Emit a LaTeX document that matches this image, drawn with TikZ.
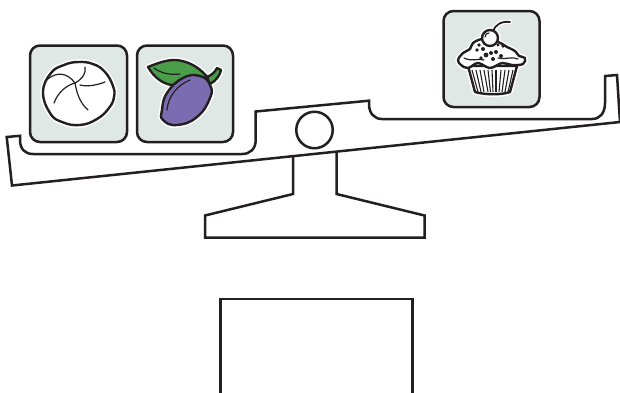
\documentclass[tikz,border=0pt]{standalone}
\definecolor{ink}{HTML}{231F20}
\definecolor{cardbg}{HTML}{E0E8E6}
\definecolor{plum}{HTML}{7B6BB0}
\definecolor{leaf}{HTML}{4A9E4A}
\tikzset{
  beam/.style={draw=ink,line width=2.5pt,line join=miter},
  card/.style={draw=ink,line width=2.5pt,fill=cardbg,rounded corners=10pt},
  halo/.style={draw=white,line width=5.5pt,fill=white,line join=round},
  outl/.style={draw=ink,line width=2.4pt,line join=round},
  thin line/.style={draw=ink,line width=1.2pt,line cap=round},
  rib/.style={draw=ink,line width=1.1pt},
  dot/.style={fill=ink,draw=none}
}
\begin{document}
\begin{tikzpicture}[x=1pt,y=-1pt]
\useasboundingbox (0,0) rectangle (620,392);
\clip (0,0) rectangle (620,392);
% beam
\draw[beam] (6.7,137) -- (20,135.8) -- (20,140) .. controls (20,149) and (25,154) .. (33,154)
  -- (242,154) .. controls (250,154) and (255.7,149) .. (255.7,140)
  -- (255.7,111.5) -- (369,100.7) -- (369,104) .. controls (369,113) and (374,119) .. (382,119)
  -- (592,119) .. controls (600,119) and (605,113) .. (605,103)
  -- (605,76) -- (617,75) -- (620,122) -- (12,185.5) -- cycle;
% stand
\draw[beam] (293,157) -- (293,194) -- (205,215.5) -- (205,237.5) -- (424.5,237.5) -- (424.5,215.5) -- (336.5,194) -- (336.5,152.5);
\node[circle,draw=ink,line width=2.5pt,minimum size=36.5pt,inner sep=0pt] (pivot) at (314.5,130) {};
% block below
\draw[beam] (220.5,400) -- (220.5,299) -- (412.5,299) -- (412.5,400);
% cards
\draw[card] (30,45.5) rectangle (127,142);
\draw[card] (137,45.5) rectangle (233,142);
\draw[card] (443.5,11) rectangle (539.5,107);
% bun
\def\bun{plot[smooth cycle,tension=0.75] coordinates {(43,92) (51,73) (64,65) (78,62) (93,64) (105,72) (113,86) (114,97) (109,108) (97,119) (80,125) (62,122) (50,113)}}
\path[halo] \bun;
\path[outl,fill=white] \bun;
\draw[thin line] (85,67) .. controls (86,72) and (84,78) .. (75,83);
\draw[thin line] (48,79) .. controls (56,72) and (67,72) .. (75,83);
\draw[thin line] (75,83) .. controls (67,85) and (58,92) .. (54,103);
\draw[thin line] (75,83) .. controls (77,95) and (81,104) .. (88,110);
\draw[thin line] (80,85) .. controls (88,87) and (97,85) .. (105,82);
% plum
\def\plumstem{(207,77) .. controls (212,75) and (215,72) .. (217,68) -- (221,70) .. controls (220,75) and (216,81) .. (210,84) -- cycle}
\def\plumleaf{(148,67) .. controls (160,62) and (172,58) .. (182,61) .. controls (192,63) and (202,70) .. (208,78) .. controls (195,76) and (180,84) .. (172,85) .. controls (162,84) and (153,76) .. (148,67) -- cycle}
\def\plumbody{plot[smooth cycle,tension=0.8] coordinates {(162,110) (167,93) (183,78) (200,76) (210,85) (210,98) (197,117) (177,125) (163,120)}}
\path[halo] \plumstem; \path[halo] \plumleaf; \path[halo] \plumbody;
\path[outl,fill=leaf] \plumstem;
\path[outl,fill=leaf] \plumleaf;
\draw[thin line] (154,68) .. controls (162,74) and (172,75) .. (180,74);
\path[outl,fill=plum] \plumbody;
\draw[thin line] (167,110) .. controls (168,97) and (177,85) .. (190,80);
% cupcake
\def\cupbody{(468,66) -- (475,92) .. controls (485,95) and (502,95) .. (510,92) -- (517,66) -- cycle}
\def\frost{plot[smooth cycle,tension=0.6] coordinates {(458,60) (463,53) (470,49) (473,43) (483,39) (498,42) (507,47) (515,51) (519,56) (525,58) (523,64) (512,65) (502,63) (490,68) (478,63) (468,68) (461,65)}}
\path[halo] \cupbody; \path[halo] \frost;
\path[halo] (490,38) circle (8);
\draw[draw=white,line width=4.5pt,line cap=round] (493,32) .. controls (495,24) and (502,21) .. (510,22);
\path[outl,fill=white] \cupbody;
\foreach \xa/\xb in {472/478,476/481,480/484,484/488,488/490.5,492/493,496/496,501/499,505/502,509/505,513/508}{
  \draw[rib] (\xa,70) -- (\xb,92);
}
\path[outl,fill=white] \frost;
\draw[thin line] (464,58) .. controls (472,62) and (478,58) .. (484,60);
\draw[thin line] (498,58) .. controls (505,60) and (512,56) .. (518,59);
\foreach \px/\py/\pr in {479/45/1.8,477/50/1.8,483/49/2,486/55/2.4,491/53/2,496/52/2,501/56/2,493/59/2,481/58/1.8,503/46/1.8,498/45/1.6}{
  \path[dot] (\px,\py) circle (\pr);
}
\draw[outl,line cap=round,line width=1.8pt] (493,32) .. controls (495,24) and (502,21) .. (510,22);
\path[outl,fill=white] (490,38) circle (8);
\draw[thin line] (485,37) .. controls (485,34) and (487,33) .. (489,33);
\end{tikzpicture}
\end{document}
